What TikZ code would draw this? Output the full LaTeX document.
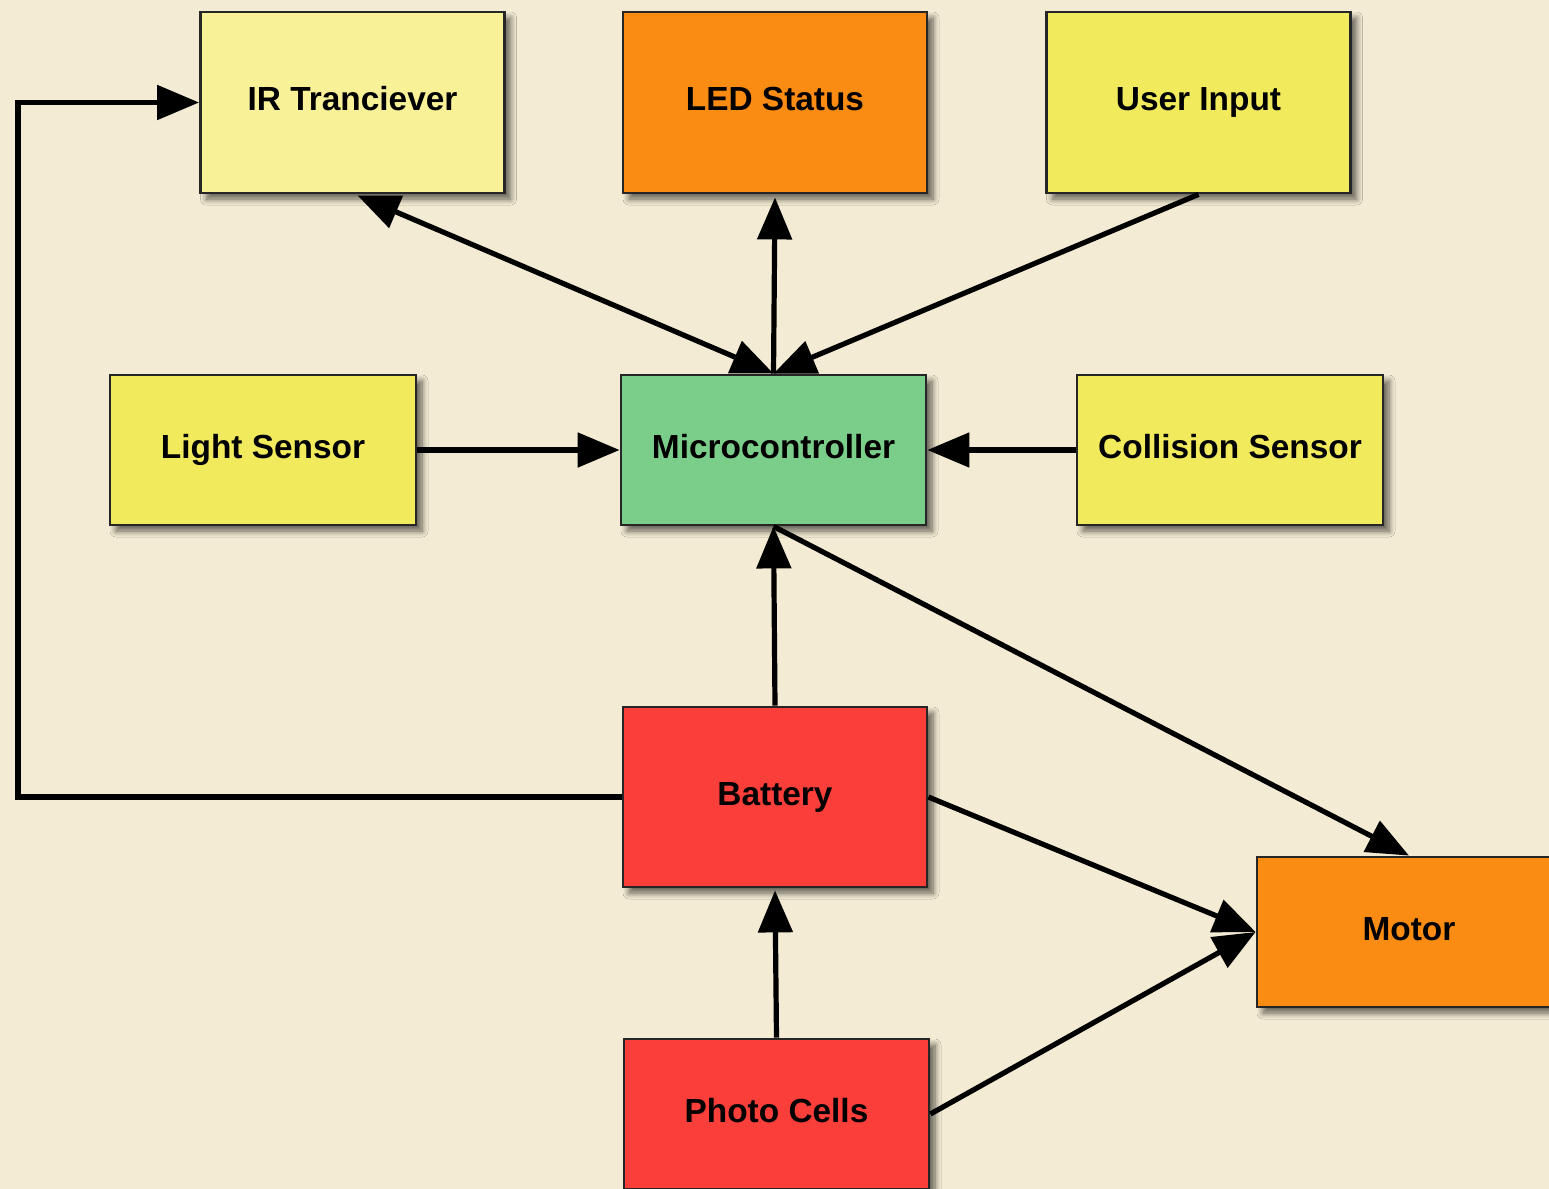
\documentclass[tikz,border=0pt]{standalone}
\usepackage{fontspec}
\setmainfont{Liberation Sans}
\usetikzlibrary{arrows.meta,calc,shadows.blur}

\definecolor{paper}{RGB}{243,235,211}
\definecolor{paleyellow}{RGB}{249,241,152}
\definecolor{brightyellow}{RGB}{240,234,92}
\definecolor{orangebox}{RGB}{250,140,20}
\definecolor{greenbox}{RGB}{122,206,138}
\definecolor{redbox}{RGB}{250,62,58}

\tikzset{
  block/.style={draw=black!85, line width=1.4pt, rectangle, inner sep=0pt,
    minimum width=152pt, text height=12pt, text depth=4pt,
    font=\fontsize{16.7}{20}\selectfont\bfseries,
    blur shadow={shadow xshift=3pt, shadow yshift=-3pt, shadow blur steps=8,
      shadow blur radius=3pt, shadow opacity=60}},
  tall/.style={minimum height=90.5pt},
  short/.style={minimum height=75pt},
  link/.style={line width=2.6pt, -{Triangle[length=21pt,width=17pt]}},
  twoway/.style={line width=2.6pt, {Triangle[length=21pt,width=17pt]}-{Triangle[length=21pt,width=17pt]}}
}

\begin{document}
\begin{tikzpicture}[x=0.5pt, y=-0.5pt]
  \useasboundingbox (0,0) rectangle (1549,1189);
  \clip (0,0) rectangle (1549,1189);
  \fill[paper] (0,0) rectangle (1549,1189);

  % top row
  \node[block, tall, fill=paleyellow]   (ir)    at (352.5,102.5) {IR Tranciever};
  \node[block, tall, fill=orangebox]    (led)   at (775,102.5)   {LED Status};
  \node[block, tall, fill=brightyellow] (user)  at (1198.5,102.5) {User Input};

  % middle row
  \node[block, short, fill=brightyellow, minimum width=153pt] (light) at (263,450)    {Light Sensor};
  \node[block, short, fill=greenbox, minimum width=152.5pt]   (mcu)   at (773.5,450)  {Microcontroller};
  \node[block, short, fill=brightyellow, minimum width=153pt] (coll)  at (1230,450)   {Collision Sensor};

  % power and drive
  \node[block, minimum height=90pt, fill=redbox]   (batt)  at (775,797)    {Battery};
  \node[block, short, fill=orangebox]              (motor) at (1409,932)   {Motor};
  \node[block, short, fill=redbox, minimum width=152.5pt] (photo) at (776.5,1114) {Photo Cells};

  % connectors into the microcontroller
  \draw[twoway] ($(ir.south)+(5,1)$) -- (mcu.north);
  \draw[link] (mcu.north) -- ($(led.south)+(0,3)$);
  \draw[link] (user.south) -- (mcu.north);
  \draw[link] (light.east) -- (mcu.west);
  \draw[link] (coll.west) -- (mcu.east);
  \draw[link] (batt.north) -- (mcu.south);

  % motor drive
  \draw[link] (mcu.south) -- (motor.north);
  \draw[link] (batt.east) -- (motor.west);
  \draw[link] (photo.east) -- (motor.west);

  % charging path
  \draw[link] (photo.north) -- ($(batt.south)+(0,2)$);

  % supply loop to the IR transceiver
  \coordinate (lowleft) at (18,797);
  \coordinate (upleft)  at (18,102.5);
  \draw[link] (batt.west) -- (lowleft) -- (upleft) -- (ir.west);
\end{tikzpicture}
\end{document}
